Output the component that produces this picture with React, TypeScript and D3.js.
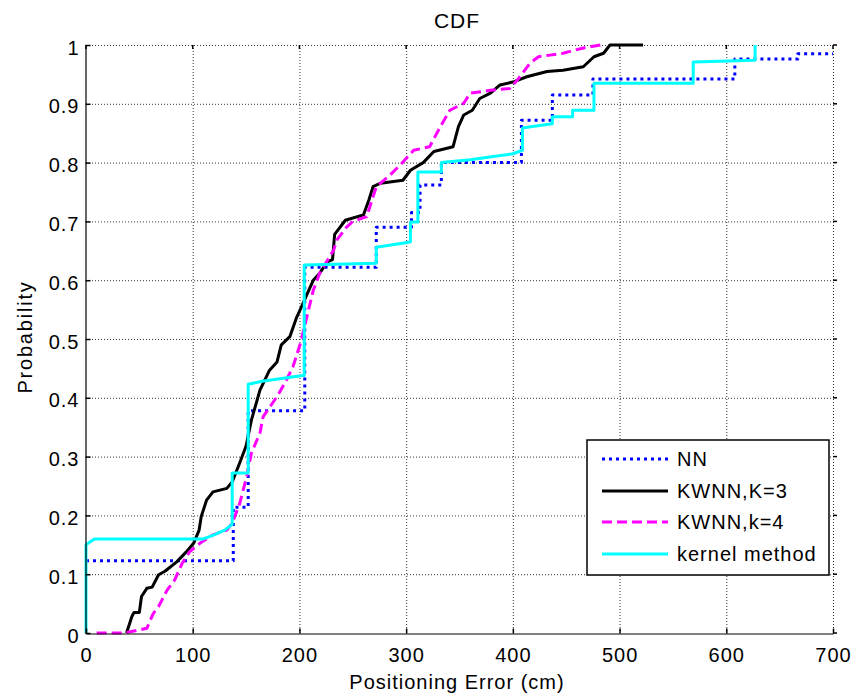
import React, { useRef, useEffect } from 'react'
import * as d3 from 'd3'

// NN: step points (error cm, probability)
const nnData: [number, number][] = [
    [0, 0.123], [138, 0.123], [138, 0.214], [152, 0.214], [152, 0.378], [205, 0.378],
    [205, 0.622], [272, 0.622], [272, 0.69], [305, 0.69], [305, 0.715], [313, 0.715],
    [313, 0.762], [333, 0.762], [333, 0.8], [408, 0.8], [408, 0.872], [437, 0.872],
    [437, 0.915], [475, 0.915], [475, 0.942], [608, 0.942], [608, 0.976], [667, 0.976],
    [667, 0.985], [700, 0.985],
]

// KWNN, K=3
const kwnn3Data: [number, number][] = [
    [38, 0], [43, 0.028], [45, 0.035], [50, 0.035], [52, 0.062], [57, 0.076], [62, 0.078],
    [68, 0.099], [74, 0.105], [85, 0.121], [94, 0.138], [101, 0.153], [106, 0.175],
    [108, 0.198], [113, 0.226], [119, 0.24], [132, 0.246], [137, 0.257], [144, 0.289],
    [150, 0.318], [155, 0.362], [163, 0.413], [172, 0.447], [179, 0.461], [183, 0.49],
    [191, 0.504], [197, 0.535], [202, 0.555], [213, 0.6], [219, 0.612], [226, 0.631],
    [231, 0.635], [233, 0.678], [243, 0.702], [260, 0.711], [265, 0.736], [269, 0.759],
    [276, 0.765], [297, 0.77], [304, 0.787], [316, 0.8], [326, 0.819], [344, 0.827],
    [349, 0.861], [354, 0.881], [362, 0.889], [369, 0.909], [379, 0.918], [388, 0.932],
    [400, 0.937], [413, 0.946], [432, 0.955], [447, 0.957], [466, 0.963], [476, 0.98],
    [485, 0.986], [491, 1.0], [522, 1.0],
]

// KWNN, k=4
const kwnn4Data: [number, number][] = [
    [10, 0], [36, 0], [57, 0.008], [63, 0.033], [68, 0.045], [76, 0.073], [83, 0.09],
    [90, 0.118], [97, 0.138], [107, 0.153], [119, 0.167], [132, 0.175], [137, 0.187],
    [144, 0.22], [151, 0.269], [155, 0.306], [163, 0.34], [166, 0.368], [179, 0.402],
    [187, 0.427], [194, 0.453], [201, 0.493], [207, 0.538], [213, 0.583], [219, 0.612],
    [232, 0.651], [235, 0.668], [244, 0.69], [250, 0.7], [263, 0.708], [272, 0.759],
    [285, 0.779], [296, 0.799], [307, 0.821], [322, 0.827], [332, 0.861], [341, 0.889],
    [354, 0.901], [360, 0.918], [379, 0.923], [397, 0.926], [404, 0.94], [416, 0.969],
    [424, 0.98], [447, 0.986], [466, 0.995], [482, 1.0], [485, 1.0],
]

// kernel method
const kernelData: [number, number][] = [
    [0, 0], [0, 0.15], [4, 0.155], [8, 0.16], [110, 0.16], [120, 0.167], [130, 0.175],
    [137, 0.185], [137, 0.272], [152, 0.272], [152, 0.423], [165, 0.428], [180, 0.432],
    [203, 0.438], [204.5, 0.438], [204.5, 0.626], [272, 0.629], [272, 0.656], [304, 0.665],
    [304, 0.699], [311, 0.699], [311, 0.784], [333, 0.784], [333, 0.8], [360, 0.805],
    [380, 0.81], [400, 0.815], [409, 0.821], [409, 0.859], [420, 0.862], [437, 0.866],
    [437, 0.878], [456, 0.878], [456, 0.889], [476, 0.889], [476, 0.935], [569, 0.935],
    [569, 0.971], [627, 0.974], [627, 1.0],
]

const seriesNames = ['NN', 'KWNN,K=3', 'KWNN,k=4', 'kernel method']
const seriesData = [nnData, kwnn3Data, kwnn4Data, kernelData]
const seriesColors = ['#0000ff', '#000000', '#ff00ff', '#00ffff']
const seriesDash = ['3,4', null, '10,5', null]

const FONT = '"Liberation Sans", Arial, sans-serif'

export default function App() {
    const ref = useRef<SVGSVGElement>(null)
    const width = 854
    const height = 698
    const margin = { top: 45, right: 21, bottom: 65, left: 86 }

    useEffect(() => {
        const svg = d3.select(ref.current)
        svg.selectAll('*').remove()

        const x = d3.scaleLinear().domain([0, 700]).range([margin.left, width - margin.right])
        const y = d3.scaleLinear().domain([0, 1]).range([height - margin.bottom, margin.top])
        const xTicks = x.ticks(7)
        const yTicks = y.ticks(10)

        // grid
        const grid = svg.append('g')
            .attr('stroke', '#333')
            .attr('stroke-width', 1)
            .attr('stroke-dasharray', '1,2')
        grid.selectAll('line.v')
            .data(xTicks.filter((d) => d > 0))
            .join('line')
            .attr('x1', (d) => x(d) + 0.5)
            .attr('x2', (d) => x(d) + 0.5)
            .attr('y1', y(1))
            .attr('y2', y(0))
        grid.selectAll('line.h')
            .data(yTicks.filter((d) => d > 0))
            .join('line')
            .attr('x1', x(0))
            .attr('x2', x(700))
            .attr('y1', (d) => y(d) + 0.5)
            .attr('y2', (d) => y(d) + 0.5)

        // curves
        const line = d3.line<[number, number]>()
            .x((d) => x(d[0]))
            .y((d) => y(d[1]))
        seriesData.forEach((data, i) => {
            svg.append('path')
                .datum(data)
                .attr('fill', 'none')
                .attr('stroke', seriesColors[i])
                .attr('stroke-width', 3)
                .attr('stroke-dasharray', seriesDash[i])
                .attr('stroke-linejoin', 'round')
                .attr('d', line)
        })

        // axes
        const xAxis = svg.append('g')
            .attr('transform', `translate(0,${y(0) + 0.5})`)
            .call(d3.axisBottom(x).ticks(7).tickSizeInner(-5).tickSizeOuter(0).tickPadding(14))
        const yAxis = svg.append('g')
            .attr('transform', `translate(${x(0) - 0.5},0)`)
            .call(d3.axisLeft(y).ticks(10).tickFormat(d3.format('~g')).tickSizeInner(-5).tickSizeOuter(0).tickPadding(6))
        ;[xAxis, yAxis].forEach((g) => {
            g.select('.domain').attr('stroke', '#000').attr('stroke-width', 1.2)
            g.selectAll('.tick line').attr('stroke', '#000').attr('stroke-width', 1.5)
            g.selectAll('.tick text')
                .attr('fill', '#000')
                .attr('font-family', FONT)
                .attr('font-size', 20)
                .attr('letter-spacing', 1)
        })
        yAxis.selectAll('.tick text').attr('dy', '0.45em')

        // ticks on top and right edges
        svg.append('g').selectAll('line')
            .data(xTicks)
            .join('line')
            .attr('x1', (d) => x(d))
            .attr('x2', (d) => x(d))
            .attr('y1', y(1))
            .attr('y2', y(1) + 4)
            .attr('stroke', '#000')
            .attr('stroke-width', 1.5)
        svg.append('g').selectAll('line')
            .data(yTicks)
            .join('line')
            .attr('x1', x(700))
            .attr('x2', x(700) + 4)
            .attr('y1', (d) => y(d))
            .attr('y2', (d) => y(d))
            .attr('stroke', '#000')
            .attr('stroke-width', 1.5)

        // labels
        const text = (g: any) => g.attr('font-family', FONT).attr('fill', '#000').attr('letter-spacing', 1)
        svg.append('text').call(text)
            .attr('x', 457).attr('y', 28)
            .attr('text-anchor', 'middle').attr('font-size', 21)
            .text('CDF')
        svg.append('text').call(text)
            .attr('x', 457).attr('y', 689)
            .attr('text-anchor', 'middle').attr('font-size', 20)
            .text('Positioning Error (cm)')
        svg.append('text').call(text)
            .attr('transform', 'translate(32,337) rotate(-90)')
            .attr('text-anchor', 'middle').attr('font-size', 20)
            .attr('letter-spacing', 1.8)
            .text('Probability')

        // legend
        const legend = svg.append('g').attr('transform', 'translate(587,440)')
        legend.append('rect')
            .attr('width', 242)
            .attr('height', 135)
            .attr('fill', '#fff')
            .attr('stroke', '#000')
            .attr('stroke-width', 1.5)
        const rowY = [19, 51, 82, 114]
        seriesNames.forEach((name, i) => {
            legend.append('line')
                .attr('x1', 15).attr('x2', 81)
                .attr('y1', rowY[i]).attr('y2', rowY[i])
                .attr('stroke', seriesColors[i])
                .attr('stroke-width', 3)
                .attr('stroke-dasharray', seriesDash[i])
            legend.append('text').call(text)
                .attr('x', 90).attr('y', rowY[i])
                .attr('dy', '0.36em')
                .attr('font-size', 20)
                .text(name)
        })
    }, [])

    return (
        <svg
            ref={ref}
            width={width}
            height={height}
            style={{ position: 'absolute', left: 0, top: 0, background: '#fff' }}
        ></svg>
    )
}
